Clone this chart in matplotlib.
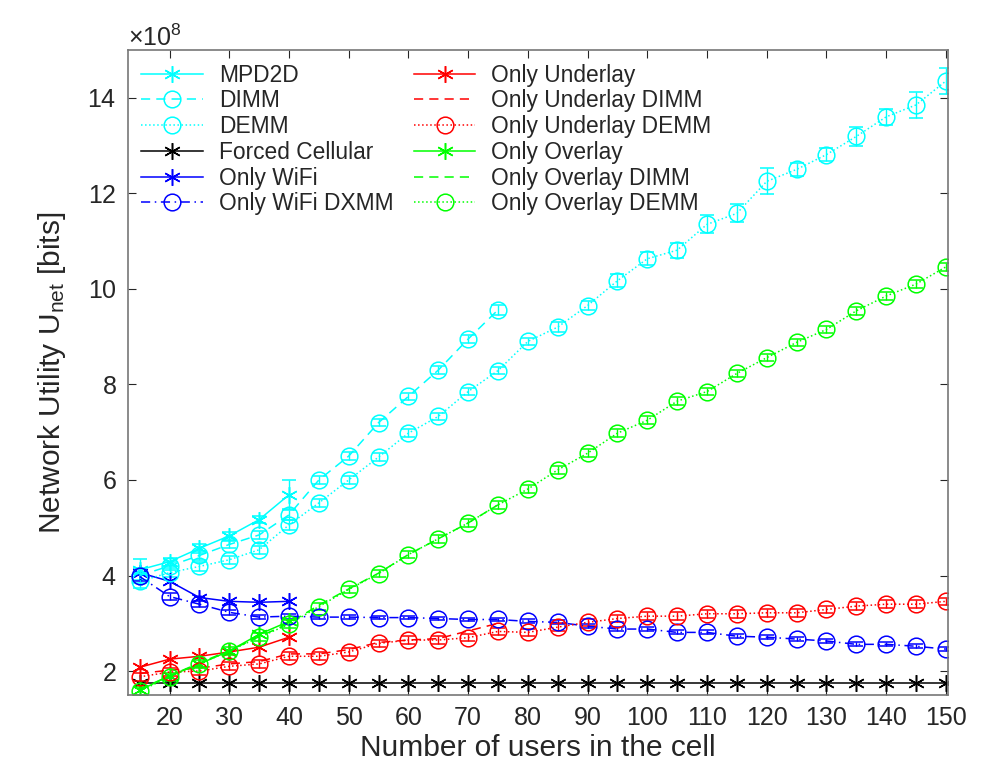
import matplotlib
matplotlib.use("Agg")
import matplotlib.pyplot as plt
from matplotlib.ticker import ScalarFormatter
import numpy as np

plt.rcParams.update({"font.family": ["Liberation Sans", "DejaVu Sans"],
                     "mathtext.fontset": "custom", "mathtext.rm": "Liberation Sans",
                     "mathtext.it": "Liberation Sans:italic"})

# users in the cell
x_all = [15, 20, 25, 30, 35, 40, 45, 50, 55, 60, 65, 70, 75, 80, 85, 90, 95, 100,
         105, 110, 115, 120, 125, 130, 135, 140, 145, 150]
x_short = x_all[:6]      # 15..40
x_mid = x_all[:13]       # 15..75

# values in units of 1e8 bits
mpd2d = [4.12, 4.29, 4.57, 4.83, 5.17, 5.69]
mpd2d_err = [0.22, 0.08, 0.1, 0.08, 0.08, 0.3]
dimm = [4.0, 4.2, 4.42, 4.65, 4.85, 5.27, 6.0, 6.5, 7.2, 7.75, 8.3, 8.95, 9.56]
dimm_err = [0.15, 0.08, 0.1, 0.08, 0.08, 0.1, 0.08, 0.08, 0.08, 0.08, 0.08, 0.08, 0.1]
demm = [3.88, 4.06, 4.19, 4.33, 4.54, 5.06, 5.52, 6.0, 6.48, 6.98, 7.33, 7.85, 8.29,
        8.9, 9.2, 9.65, 10.17, 10.63, 10.81, 11.35, 11.58, 12.25, 12.5, 12.81, 13.19,
        13.6, 13.85, 14.35]
demm_err = [0.15, 0.1, 0.1, 0.08, 0.08, 0.1, 0.08, 0.08, 0.08, 0.08, 0.08, 0.08, 0.08,
            0.08, 0.1, 0.1, 0.14, 0.14, 0.16, 0.19, 0.19, 0.27, 0.14, 0.14, 0.19,
            0.17, 0.27, 0.27]
forced = [1.75] * 28
wifi = [4.06, 3.88, 3.54, 3.46, 3.44, 3.46]
wifi_dxmm = [3.98, 3.56, 3.4, 3.23, 3.13, 3.15, 3.13, 3.13, 3.12, 3.12, 3.1, 3.08,
             3.08, 3.04, 3.02, 2.94, 2.88, 2.88, 2.81, 2.81, 2.73, 2.71, 2.67, 2.63,
             2.56, 2.56, 2.52, 2.46]
wifi_err = [0.1, 0.08, 0.06, 0.05, 0.05, 0.05, 0.04, 0.04, 0.04, 0.04, 0.04, 0.04,
            0.04, 0.04, 0.04, 0.04, 0.04, 0.04, 0.04, 0.04, 0.04, 0.04, 0.04, 0.04,
            0.04, 0.04, 0.04, 0.04]
under = [2.08, 2.25, 2.31, 2.4, 2.5, 2.71]
under_dimm = [1.95, 2.02, 2.06, 2.15, 2.2, 2.36, 2.36, 2.45, 2.6, 2.65, 2.68, 2.84, 3.0]
under_demm = [1.88, 1.98, 2.0, 2.1, 2.15, 2.31, 2.31, 2.4, 2.58, 2.65, 2.65, 2.7, 2.83,
              2.81, 2.92, 3.02, 3.1, 3.15, 3.15, 3.2, 3.2, 3.22, 3.22, 3.29, 3.36,
              3.4, 3.4, 3.46]
under_err = [0.08, 0.08, 0.08, 0.08, 0.08, 0.08, 0.08, 0.08, 0.08, 0.08, 0.08, 0.08,
             0.08, 0.08, 0.08, 0.08, 0.08, 0.08, 0.08, 0.08, 0.08, 0.08, 0.08, 0.08,
             0.08, 0.08, 0.08, 0.08]
over = [1.6, 1.9, 2.15, 2.42, 2.77, 3.04]
over_dimm = [1.62, 1.9, 2.17, 2.43, 2.72, 3.0, 3.38, 3.72, 4.05, 4.44, 4.77, 5.1, 5.48]
over_demm = [1.58, 1.88, 2.15, 2.42, 2.71, 2.98, 3.35, 3.71, 4.04, 4.44, 4.77, 5.1,
             5.48, 5.81, 6.21, 6.56, 6.98, 7.25, 7.65, 7.85, 8.23, 8.56, 8.88, 9.15,
             9.54, 9.85, 10.1, 10.46]
over_err = [0.08, 0.08, 0.08, 0.08, 0.08, 0.08, 0.08, 0.08, 0.08, 0.08, 0.08, 0.08,
            0.08, 0.08, 0.08, 0.08, 0.08, 0.08, 0.08, 0.08, 0.08, 0.08, 0.08, 0.08,
            0.08, 0.08, 0.08, 0.08]

C, B, R, G, K = "#00FFFF", "#0000FF", "#FF0000", "#00FF00", "black"
AST = (6, 2, 0)
DASH = (0, (6, 4))
DASHDOT = (0, (6, 3, 1, 3))
S = 1e8
TXT = "#262626"

fig, ax = plt.subplots(figsize=(10.06, 7.76), dpi=100)
fig.subplots_adjust(left=0.127, right=0.942, top=0.9356, bottom=0.1044)

handles, labels = [], []
def ser(xs, ys, err, col, ls, mk, lab, ms=12):
    ys = np.array(ys) * S
    kw = dict(color=col, ls=ls, lw=1.1, marker=mk, ms=ms, mfc="none", mew=1.1)
    if err is None:
        h, = ax.plot(xs, ys, **kw)
    else:
        h = ax.errorbar(xs, ys, yerr=np.array(err) * S, capsize=5, elinewidth=1.0,
                        capthick=1.0, **kw)[0]
    handles.append(h)
    labels.append(lab)

ser(x_short, mpd2d, mpd2d_err, C, "-", AST, "MPD2D")
ser(x_mid, dimm, dimm_err, C, DASH, "o", "DIMM")
ser(x_all, demm, demm_err, C, ":", "o", "DEMM")
ser(x_all, forced, None, K, "-", AST, "Forced Cellular")
ser(x_short, wifi, None, B, "-", AST, "Only WiFi")
ser(x_all, wifi_dxmm, wifi_err, B, DASHDOT, "o", "Only WiFi DXMM")
ser(x_short, under, None, R, "-", AST, "Only Underlay")
ser(x_mid, under_dimm, None, R, DASH, None, "Only Underlay DIMM")
ser(x_all, under_demm, under_err, R, ":", "o", "Only Underlay DEMM")
ser(x_short, over, None, G, "-", AST, "Only Overlay")
ser(x_mid, over_dimm, None, G, DASH, None, "Only Overlay DIMM")
ser(x_all, over_demm, over_err, G, ":", "o", "Only Overlay DEMM")

ax.set_xlim(13, 150.3)
ax.set_ylim(1.5e8, 15e8)
ax.set_xticks(range(20, 151, 10))
ax.set_yticks(np.arange(2, 15, 2) * S)
fmt = ScalarFormatter(useMathText=True)
fmt.set_powerlimits((8, 8))
ax.yaxis.set_major_formatter(fmt)
ax.yaxis.get_offset_text().set_fontsize(18)
ax.yaxis.get_offset_text().set_color(TXT)
ax.tick_params(direction="in", top=True, right=True, labelsize=18, colors=TXT,
               length=6, width=0.8, pad=8)
for sp in ax.spines.values():
    sp.set_color("#777777")
    sp.set_linewidth(1.2)

ax.set_xlabel("Number of users in the cell", fontsize=21.5, color=TXT, labelpad=3)
ax.set_ylabel(r"Network Utility U$_{\mathrm{net}}$ [bits]", fontsize=21.5, color=TXT,
              labelpad=14)

leg = ax.legend(handles, labels, ncol=2, loc="upper left", bbox_to_anchor=(0.0, 1.0),
                frameon=False, fontsize=16.4, handlelength=2.7, handletextpad=0.7,
                columnspacing=0.9, labelspacing=0.12, borderaxespad=0.2, numpoints=1)
for t in leg.get_texts():
    t.set_color(TXT)

fig.savefig("out.png", dpi=100)
